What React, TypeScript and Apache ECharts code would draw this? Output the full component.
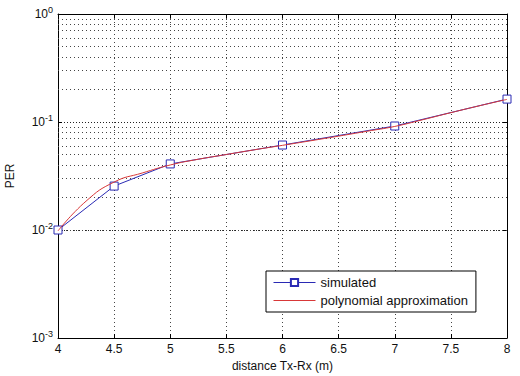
import React, { useEffect, useRef } from "react";
import * as echarts from "echarts";

const simX = [4, 4.5, 5, 6, 7, 8];
const simY = [0.01, 0.0255, 0.0409, 0.0612, 0.0918, 0.163];

const polyX = [4, 4.25, 4.5, 4.75, 5, 5.25, 5.5, 5.75, 6, 6.25, 6.5, 6.75, 7, 7.25, 7.5, 7.75, 8];
const polyY = [0.0098, 0.0185, 0.0278, 0.0337, 0.0400, 0.0452, 0.0500, 0.0553, 0.0608, 0.0670, 0.0740, 0.0820, 0.0910, 0.1050, 0.1220, 0.1410, 0.1620];

const minorGridValues = [
  0.002, 0.003, 0.004, 0.005, 0.006, 0.007, 0.008, 0.009,
  0.02, 0.03, 0.04, 0.05, 0.06, 0.07, 0.08, 0.09,
  0.2, 0.3, 0.4, 0.5, 0.6, 0.7, 0.8, 0.9,
];

const seriesNames = ["simulated", "polynomial approximation"];
const xName = "distance Tx-Rx (m)";
const yName = "PER";

const FONT = "Liberation Sans, Arial, sans-serif";
const BLUE = "#2a2ab4";
const RED = "#d83838";

export default function App() {
  const ref = useRef<HTMLDivElement>(null);
  useEffect(() => {
    if (!ref.current) return;
    const chart = echarts.init(ref.current, undefined, { renderer: "svg" });
    const dotted = { type: [1, 3] as any, color: "#444", width: 1 };
    const option: any = {
      animation: false,
      backgroundColor: "#fff",
      textStyle: { fontFamily: FONT },
      grid: { left: 58, right: 13, top: 14, bottom: 38, show: false, containLabel: false, outerBoundsMode: "none" },
      legend: {
        orient: "vertical",
        left: 266,
        top: 271,
        padding: [5, 8, 5, 7],
        itemWidth: 42,
        itemHeight: 9,
        itemGap: 5,
        backgroundColor: "#fff",
        borderColor: "#000",
        borderWidth: 1,
        borderRadius: 0,
        lineStyle: { width: 1 },
        textStyle: { fontFamily: FONT, fontSize: 13, color: "#111" },
        data: seriesNames,
      },
      xAxis: [
        {
          type: "value",
          min: 4,
          max: 8,
          interval: 0.5,
          name: xName,
          nameLocation: "middle",
          nameGap: 20,
          nameTextStyle: { fontFamily: FONT, fontSize: 12, color: "#111" },
          axisLine: { show: true, lineStyle: { color: "#000", width: 1 } },
          axisTick: { show: true, inside: true, length: 4, lineStyle: { color: "#000" } },
          axisLabel: { fontFamily: FONT, fontSize: 12, color: "#111", margin: 5 },
          splitLine: { show: true, lineStyle: dotted },
        },
        {
          type: "value",
          position: "top",
          min: 4,
          max: 8,
          interval: 0.5,
          axisLine: { show: true, lineStyle: { color: "#000", width: 1 } },
          axisTick: { show: true, inside: true, length: 4, lineStyle: { color: "#000" } },
          axisLabel: { show: false },
          splitLine: { show: false },
        },
      ],
      yAxis: [
        {
          type: "log",
          logBase: 10,
          min: 0.001,
          max: 1,
          name: yName,
          nameLocation: "middle",
          nameGap: 42,
          nameTextStyle: { fontFamily: FONT, fontSize: 12, color: "#111" },
          axisLine: { show: true, lineStyle: { color: "#000", width: 1 } },
          axisTick: { show: true, inside: true, length: 4, lineStyle: { color: "#000" } },
          axisLabel: {
            fontFamily: FONT,
            fontSize: 12,
            color: "#111",
            margin: 5,
            formatter: (v: number) => "10{sup|" + Math.round(Math.log10(v)) + "}",
            rich: {
              sup: { fontSize: 9, fontFamily: FONT, color: "#111", verticalAlign: "bottom", padding: [0, 0, 9, 0] },
            },
          },
          splitLine: { show: true, lineStyle: { type: [1, 2], color: "#222", width: 1 } },
        },
        {
          type: "log",
          logBase: 10,
          min: 0.001,
          max: 1,
          position: "right",
          axisLine: { show: true, lineStyle: { color: "#000", width: 1 } },
          axisTick: { show: true, inside: true, length: 4, lineStyle: { color: "#000" } },
          axisLabel: { show: false },
          splitLine: { show: false },
        },
      ],
      series: [
        {
          name: seriesNames[0],
          type: "line",
          data: simX.map((x, i) => [x, simY[i]]),
          symbol: "rect",
          symbolSize: 8,
          itemStyle: { color: "#fff", borderColor: BLUE, borderWidth: 1 },
          lineStyle: { color: BLUE, width: 1 },
          z: 3,
          markLine: {
            silent: true,
            symbol: ["none", "none"],
            label: { show: false },
            lineStyle: dotted,
            emphasis: { disabled: true },
            data: minorGridValues.map((v) => ({ yAxis: v })),
            z: 1,
          },
        },
        {
          name: seriesNames[1],
          type: "line",
          data: polyX.map((x, i) => [x, polyY[i]]),
          smooth: true,
          symbol: "circle",
          showSymbol: false,
          itemStyle: { color: "rgba(0,0,0,0)", borderColor: "rgba(0,0,0,0)" },
          lineStyle: { color: RED, width: 1 },
          z: 4,
        },
      ],
    };
    chart.setOption(option);
    return () => chart.dispose();
  }, []);
  return <div ref={ref} style={{ width: 520, height: 376, position: "absolute", left: 0, top: 0 }} />;
}
